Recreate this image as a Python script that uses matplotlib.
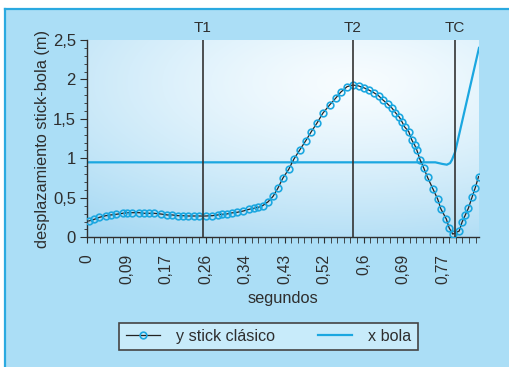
import numpy as np
import matplotlib.pyplot as plt
from matplotlib.patches import Rectangle
from matplotlib.lines import Line2D

plt.rcParams['font.family'] = ['Liberation Sans', 'DejaVu Sans']

# muestras del integrador (paso variable)
stick_t = [0.004, 0.016, 0.027, 0.041, 0.052, 0.063, 0.078, 0.088, 0.099, 0.114,
           0.124, 0.135, 0.146, 0.161, 0.175, 0.186, 0.197, 0.208, 0.219, 0.233,
           0.244, 0.258, 0.273, 0.284, 0.293, 0.304, 0.316, 0.327, 0.340, 0.353,
           0.363, 0.373, 0.382, 0.394, 0.405, 0.416, 0.426, 0.439, 0.450, 0.463,
           0.476, 0.488, 0.501, 0.513, 0.528, 0.541, 0.552, 0.566, 0.578, 0.591,
           0.602, 0.613, 0.624, 0.635, 0.644, 0.654, 0.664, 0.671, 0.680, 0.686,
           0.691, 0.700, 0.707, 0.713, 0.718, 0.725, 0.733, 0.741, 0.753, 0.763,
           0.770, 0.782, 0.788, 0.796, 0.810, 0.816, 0.823, 0.830, 0.838, 0.845,
           0.852]
stick_y = [0.207, 0.228, 0.253, 0.274, 0.283, 0.291, 0.304, 0.312, 0.312, 0.312,
           0.304, 0.304, 0.304, 0.295, 0.283, 0.283, 0.274, 0.274, 0.270, 0.270,
           0.270, 0.270, 0.274, 0.283, 0.291, 0.295, 0.310, 0.317, 0.333, 0.355,
           0.367, 0.380, 0.400, 0.450, 0.520, 0.629, 0.748, 0.862, 0.989, 1.107,
           1.224, 1.338, 1.452, 1.571, 1.677, 1.762, 1.838, 1.909, 1.930, 1.918,
           1.896, 1.867, 1.833, 1.791, 1.740, 1.690, 1.635, 1.580, 1.520, 1.457,
           1.400, 1.340, 1.230, 1.170, 1.100, 0.980, 0.875, 0.760, 0.610, 0.485,
           0.360, 0.230, 0.120, 0.040, 0.080, 0.190, 0.280, 0.370, 0.510, 0.630,
           0.770]

bola_t = [0.0, 0.758, 0.773, 0.783, 0.790, 0.794, 0.801, 0.853]
bola_y = [0.95, 0.95, 0.93, 0.92, 0.94, 0.98, 1.08, 2.40]

t_marks = [0.252, 0.578, 0.801]
t_names = ['T1', 'T2', 'TC']

x_ticks = [0, 0.086, 0.172, 0.258, 0.344, 0.430, 0.516, 0.602, 0.688, 0.774]
x_labels = ['0', '0,09', '0,17', '0,26', '0,34', '0,43', '0,52', '0,6', '0,69', '0,77']
y_ticks = [0, 0.5, 1, 1.5, 2, 2.5]
y_labels = ['0', '0,5', '1', '1,5', '2', '2,5']

blue = '#1ba7e0'
dark = '#2e2e2e'
bg = '#abdef6'

fig = plt.figure(figsize=(5.1, 3.67), dpi=100)
fig.patch.set_facecolor('white')

# recuadro de fondo: solo los bordes superior e izquierdo quedan dentro
x0 = 5 / 510
y0 = 1 - 9 / 367
fig.add_artist(Rectangle((x0, 0), 1 - x0, y0, transform=fig.transFigure,
                         facecolor=bg, edgecolor='none', zorder=0))
fig.add_artist(Line2D([x0, 1], [y0, y0], transform=fig.transFigure,
                      color='#2aa9e0', lw=1.6, zorder=1))
fig.add_artist(Line2D([x0, x0], [0, y0], transform=fig.transFigure,
                      color='#2aa9e0', lw=1.6, zorder=1))

ax = fig.add_axes([87 / 510, 1 - 237.3 / 367, 392 / 510, 197.3 / 367])
ax.set_facecolor('none')

# fondo degradado del area de trazado
gx, gy = np.meshgrid(np.linspace(0, 1, 300), np.linspace(0, 1, 200))
r = np.clip(np.hypot((gx - 0.68) / 1.0, (gy - 0.78) / 0.85) / 1.1, 0, 1)
c0 = np.array([0.97, 0.99, 1.0])
c1 = np.array([0.65, 0.85, 0.955])
img = c0 + (c1 - c0) * r[..., None] ** 1.3
ax.imshow(img, extent=[0, 1, 0, 1], transform=ax.transAxes, origin='lower',
          aspect='auto', zorder=0)

ax.plot(bola_t, bola_y, color=blue, lw=1.6, zorder=2, label='x bola')
ax.plot(stick_t, stick_y, color='#222222', lw=0.9, marker='o', ms=4.8,
        mfc='none', mec=blue, mew=1.2, zorder=3, label='y stick clásico')

for t, name in zip(t_marks, t_names):
    ax.axvline(t, color='#333333', lw=1.2, zorder=4)
    ax.text(t, 1.061, name, transform=ax.get_xaxis_transform(), ha='center',
            va='center', fontsize=11, color=dark)

ax.set_xlim(0, 0.853)
ax.set_ylim(0, 2.5)
ax.set_xticks(x_ticks)
ax.set_xticklabels(x_labels, rotation=90, fontsize=11.2, color=dark)
ax.set_xticks(np.arange(0, 0.853, 0.086 / 6), minor=True)
ax.set_yticks(y_ticks)
ax.set_yticklabels(y_labels, fontsize=12, color=dark)
ax.set_yticks(np.arange(0, 2.51, 0.1), minor=True)
ax.tick_params(axis='x', which='both', direction='out', length=4, color=dark, pad=8)
ax.tick_params(axis='y', which='major', direction='out', length=5, color=dark, pad=3)
ax.tick_params(axis='y', which='minor', direction='out', length=2.5, color=dark)

for s in ['top', 'right']:
    ax.spines[s].set_visible(False)
for s in ['left', 'bottom']:
    ax.spines[s].set_color(dark)
    ax.spines[s].set_linewidth(1.0)

ax.set_xlabel('segundos', fontsize=11.8, color=dark, labelpad=5)
ax.set_ylabel('desplazamiento stick-bola (m)', fontsize=11.8, color=dark, labelpad=2)

handles = [Line2D([], [], color='#222222', lw=0.9, marker='o', ms=4.8,
                  mfc='none', mec=blue, mew=1.2),
           Line2D([], [], color=blue, lw=1.6)]
leg = fig.legend(handles, ['y stick clásico', 'x bola'], loc='center',
                 bbox_to_anchor=(268.5 / 510, 1 - 336.5 / 367), ncol=2,
                 fancybox=False, edgecolor='#444444', facecolor='#c8ebfa',
                 framealpha=1, handlelength=2.1, handletextpad=1.0,
                 columnspacing=2.7, borderpad=0.4, fontsize=11.6)
leg.get_frame().set_linewidth(1.2)
for txt in leg.get_texts():
    txt.set_color(dark)

fig.savefig('out.png', dpi=100)
